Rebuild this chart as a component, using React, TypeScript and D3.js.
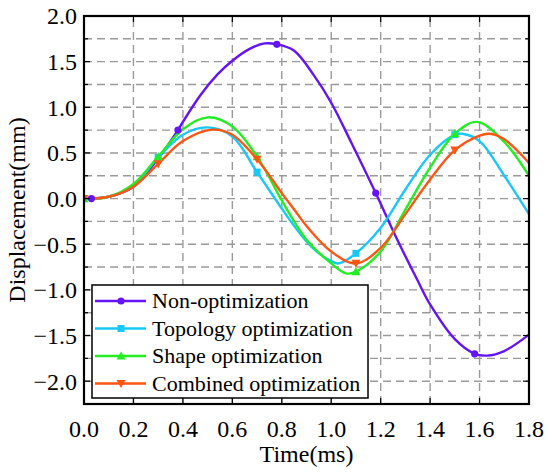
import React from 'react'
import * as d3 from 'd3'

type Pt = [number, number]

// values (time in ms, displacement in mm)
const nonOptimization: Pt[] = [
  [0, 0], [0.03, 0], [0.1, 0.02], [0.2, 0.13], [0.3, 0.44], [0.38, 0.75], [0.4, 0.84],
  [0.47, 1.13], [0.54, 1.36], [0.6, 1.51], [0.67, 1.64], [0.73, 1.70],
  [0.78, 1.69], [0.85, 1.62], [0.93, 1.35], [1.0, 1.05], [1.08, 0.62],
  [1.18, 0.06], [1.26, -0.41], [1.35, -0.9], [1.4, -1.16],
  [1.5, -1.54], [1.58, -1.70], [1.63, -1.72], [1.7, -1.67], [1.8, -1.49]
]
const topologyOpt: Pt[] = [
  [0, 0], [0.1, 0.02], [0.2, 0.14], [0.3, 0.45], [0.4, 0.70], [0.5, 0.78], [0.6, 0.68],
  [0.7, 0.29], [0.8, -0.11], [0.85, -0.30], [0.9, -0.47], [0.95, -0.60], [1.0, -0.685],
  [1.03, -0.71], [1.1, -0.60], [1.2, -0.32], [1.3, 0.10], [1.4, 0.48], [1.5, 0.70],
  [1.53, 0.71], [1.6, 0.63], [1.7, 0.25], [1.8, -0.17]
]
const shapeOpt: Pt[] = [
  [0, 0], [0.1, 0.02], [0.2, 0.16], [0.3, 0.46], [0.4, 0.76], [0.5, 0.89], [0.6, 0.79],
  [0.7, 0.46], [0.8, -0.02], [0.85, -0.25], [0.9, -0.45], [1.0, -0.71], [1.06, -0.82],
  [1.1, -0.80], [1.2, -0.58], [1.3, -0.12], [1.4, 0.34], [1.5, 0.71],
  [1.59, 0.84], [1.7, 0.62], [1.8, 0.25]
]
const combinedOpt: Pt[] = [
  [0, 0], [0.1, 0.02], [0.2, 0.13], [0.3, 0.38], [0.4, 0.63], [0.52, 0.755],
  [0.6, 0.70], [0.7, 0.43], [0.8, 0.06], [0.85, -0.12], [0.9, -0.30], [1.0, -0.58],
  [1.1, -0.71], [1.2, -0.54], [1.3, -0.17], [1.4, 0.21], [1.5, 0.53], [1.6, 0.69],
  [1.64, 0.71], [1.7, 0.65], [1.8, 0.39]
]

const nonOptMarkers = [0.03, 0.38, 0.78, 1.18, 1.58]
const optMarkers = [0, 0.3, 0.7, 1.1, 1.5]

const xTicks = [0, 0.2, 0.4, 0.6, 0.8, 1.0, 1.2, 1.4, 1.6, 1.8]
const yTicks = [2.0, 1.5, 1.0, 0.5, 0.0, -0.5, -1.0, -1.5, -2.0]
const yGrid = d3.range(-2.0, 2.0, 0.25)

const series = [
  { name: 'Non-optimization', data: nonOptimization, marks: nonOptMarkers, color: '#6414f5', shape: 'circle' },
  { name: 'Topology optimization', data: topologyOpt, marks: optMarkers, color: '#18c8f8', shape: 'square' },
  { name: 'Shape optimization', data: shapeOpt, marks: optMarkers, color: '#22ee22', shape: 'up' },
  { name: 'Combined optimization', data: combinedOpt, marks: optMarkers, color: '#ff5512', shape: 'down' }
]

const W = 550
const H = 475
const margin = { top: 16, right: 21, bottom: 71, left: 84 }
const FONT = '"Liberation Serif", "Times New Roman", serif'

const Marker = ({ shape, x, y, color }: { shape: string; x: number; y: number; color: string }) => {
  if (shape === 'circle') return <circle cx={x} cy={y} r={3.6} fill={color} />
  if (shape === 'square') return <rect x={x - 3.5} y={y - 3.5} width={7} height={7} fill={color} />
  const s = 4.5
  const pts = shape === 'up'
    ? `${x},${y - s} ${x + s},${y + s * 0.8} ${x - s},${y + s * 0.8}`
    : `${x},${y + s} ${x + s},${y - s * 0.8} ${x - s},${y - s * 0.8}`
  return <polygon points={pts} fill={color} />
}

export default function App() {
  const x = d3.scaleLinear().domain([0, 1.8]).range([margin.left, W - margin.right])
  const y = d3.scaleLinear().domain([-2.25, 2.0]).range([H - margin.bottom, margin.top])
  const line = d3.line<Pt>()
    .x(d => x(d[0]))
    .y(d => y(d[1]))
    .curve(d3.curveCatmullRom.alpha(0.5))

  const [x0, x1] = x.range()
  const [y0, y1] = y.range()

  const legend = { x: 92, y: 285, w: 276, h: 113, row: 27.5 }

  return (
    <svg width={W} height={H} style={{ position: 'absolute', left: 0, top: 0, background: '#fff' }}
      fontFamily={FONT}>
      <defs>
        <clipPath id="plot">
          <rect x={x0} y={y1} width={x1 - x0} height={y0 - y1} />
        </clipPath>
      </defs>

      {/* grid */}
      <g stroke="#9a9a9a" strokeWidth={1.4} strokeDasharray="8,5">
        {yGrid.map(v => (
          <line key={'h' + v} x1={x0} x2={x1} y1={y(v)} y2={y(v)} />
        ))}
        {xTicks.slice(1, -1).map(v => (
          <line key={'v' + v} x1={x(v)} x2={x(v)} y1={y0} y2={y1} />
        ))}
      </g>

      {/* curves */}
      <g clipPath="url(#plot)">
        {series.map(s => (
          <path key={s.name} d={line(s.data) || ''} fill="none" stroke={s.color} strokeWidth={2.4} />
        ))}
        {series.map(s =>
          s.data.filter(d => s.marks.includes(d[0])).map(d => (
            <Marker key={s.name + d[0]} shape={s.shape} x={x(d[0])} y={y(d[1])} color={s.color} />
          ))
        )}
      </g>

      {/* ticks */}
      <g stroke="#000" strokeWidth={1.2}>
        {yGrid.map(v => {
          const len = Math.abs(v * 2 - Math.round(v * 2)) < 1e-6 ? 6 : 4
          return (
            <g key={'t' + v}>
              <line x1={x0} x2={x0 + len} y1={y(v)} y2={y(v)} />
              <line x1={x1} x2={x1 - len} y1={y(v)} y2={y(v)} />
            </g>
          )
        })}
        {xTicks.slice(1, -1).map(v => (
          <g key={'xt' + v}>
            <line x1={x(v)} x2={x(v)} y1={y0} y2={y0 - 6} />
            <line x1={x(v)} x2={x(v)} y1={y1} y2={y1 + 6} />
          </g>
        ))}
      </g>

      {/* frame */}
      <rect x={x0} y={y1} width={x1 - x0} height={y0 - y1} fill="none" stroke="#000" strokeWidth={2.2} />

      {/* tick labels */}
      <g fontSize={24} fill="#000">
        {yTicks.map(v => (
          <text key={'yl' + v} x={x0 - 7} y={y(v)} dy="0.35em" textAnchor="end">
            {d3.format('.1f')(v).replace('-', '\u2212')}
          </text>
        ))}
        {xTicks.map(v => (
          <text key={'xl' + v} x={x(v)} y={437} textAnchor="middle">
            {d3.format('.1f')(v)}
          </text>
        ))}
      </g>

      {/* axis titles */}
      <text x={(x0 + x1) / 2} y={462} textAnchor="middle" fontSize={24}>Time(ms)</text>
      <text transform={`translate(25,${(y0 + y1) / 2}) rotate(-90)`} textAnchor="middle" fontSize={24}>
        Displacement(mm)
      </text>

      {/* legend */}
      <g>
        <rect x={legend.x} y={legend.y} width={legend.w} height={legend.h} fill="#fff" stroke="#000" strokeWidth={1.5} />
        {series.map((s, i) => {
          const cy = legend.y + 16 + i * legend.row
          return (
            <g key={'lg' + s.name}>
              <line x1={legend.x + 3} x2={legend.x + 54} y1={cy} y2={cy} stroke={s.color} strokeWidth={2.4} />
              <Marker shape={s.shape} x={legend.x + 29} y={cy} color={s.color} />
              <text x={legend.x + 60} y={cy} dy="0.33em" fontSize={22}>{s.name}</text>
            </g>
          )
        })}
      </g>
    </svg>
  )
}
